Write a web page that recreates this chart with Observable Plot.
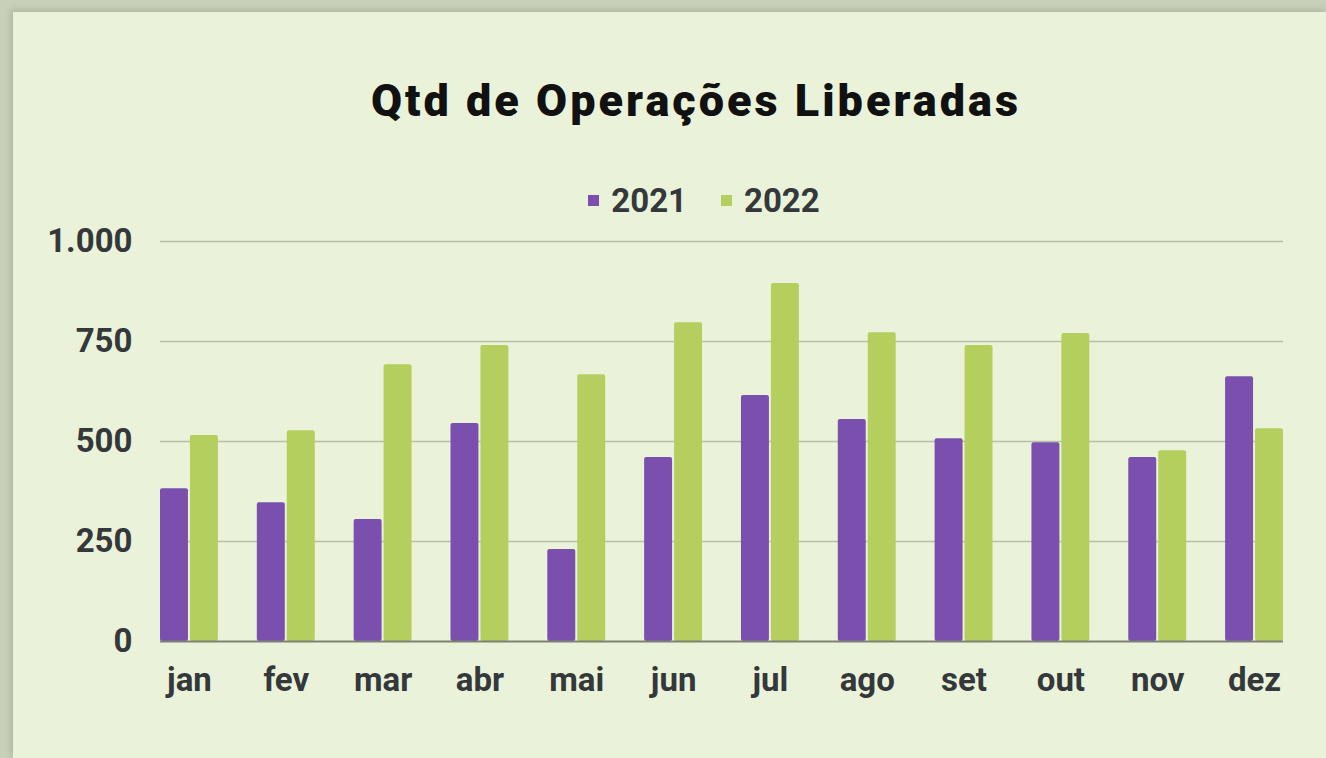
<!DOCTYPE html>
<html>
<head>
<meta charset="utf-8">
<script src="https://cdn.jsdelivr.net/npm/d3@7"></script>
<script src="https://cdn.jsdelivr.net/npm/@observablehq/plot@0.6"></script>
<style>
  html, body { margin: 0; padding: 0; }
  body { width: 1326px; height: 758px; background: #c9d0ba; position: relative; overflow: hidden; font-family: Roboto, "Noto Sans", sans-serif; }
  #card { position: absolute; left: 13px; top: 12px; right: 0; bottom: 0; background: #eaf3d9; box-shadow: -2px -2px 6px rgba(120,130,100,0.35); }
  #title { position: absolute; left: 0; width: 1392px; top: 74px; text-align: center; font-family: Roboto, sans-serif; font-weight: 900; font-size: 45px; letter-spacing: 3px; color: #111; }
  #legend { position: absolute; top: 175px; left: 0; width: 1408px; text-align: center; font-weight: 700; font-size: 33px; color: #34383b; }
  #legend span.item { display: inline-flex; align-items: center; margin: 0 17px; }
  #legend span.sw { display: inline-block; width: 11px; height: 11px; margin-right: 12px; }
  #chart { position: absolute; left: 0; top: 220px; }
</style>
</head>
<body>
<div id="card"></div>
<div id="title">Qtd de Operações Liberadas</div>
<div id="legend"></div>
<div id="chart"></div>
<script>
const months = ["jan","fev","mar","abr","mai","jun","jul","ago","set","out","nov","dez"];
const series = ["2021", "2022"];
const values2021 = [382, 347, 305, 545, 230, 460, 615, 555, 507, 497, 460, 662];
const values2022 = [515, 527, 692, 740, 667, 797, 895, 772, 740, 770, 477, 532];
const yTicks = [0, 250, 500, 750, 1000];
const colors = ["#7b4fae", "#b5cf5e"];

const d2021 = months.map((m, i) => ({month: m, year: series[0], value: values2021[i]}));
const d2022 = months.map((m, i) => ({month: m, year: series[1], value: values2022[i]}));

const legend = document.getElementById("legend");
series.forEach((s, i) => {
  const it = document.createElement("span");
  it.className = "item";
  it.innerHTML = `<span class="sw" style="background:${colors[i]}"></span>${s}`;
  legend.appendChild(it);
});

const width = 1326, marginLeft = 160, marginRight = 43;
const padInner = 0.402;
const step = (width - marginLeft - marginRight) / (months.length - padInner);
const bw = step * (1 - padInner);
const half = bw / 2 + 1;

const fmt = d => d3.format(",")(d).replace(/,/g, ".");

const chart = Plot.plot({
  width, height: 520,
  marginLeft, marginRight, marginTop: 21, marginBottom: 99,
  style: {background: "transparent", fontFamily: "Roboto, sans-serif", fontWeight: 700, fontSize: "33px", color: "#34383b", overflow: "visible"},
  x: {domain: months, paddingInner: padInner, paddingOuter: 0, round: false, label: null},
  y: {domain: [0, 1000], label: null},
  marks: [
    Plot.ruleY(yTicks.filter(d => d > 0), {stroke: "#b8bfa7", strokeWidth: 1.5}),
    Plot.barY(d2021, {x: "month", y: "value", fill: colors[0], insetRight: half, rx: 2}),
    Plot.barY(d2022, {x: "month", y: "value", fill: colors[1], insetLeft: half, rx: 2}),
    Plot.ruleY([0], {stroke: "#7c8173", strokeWidth: 2}),
    Plot.axisY({ticks: yTicks, tickFormat: fmt, tickSize: 0, tickPadding: 28, label: null, fontSize: 33, fontWeight: 700}),
    Plot.axisX({tickSize: 0, tickPadding: 26, label: null, fontSize: 33, fontWeight: 700})
  ]
});
document.getElementById("chart").appendChild(chart);
</script>
</body>
</html>
